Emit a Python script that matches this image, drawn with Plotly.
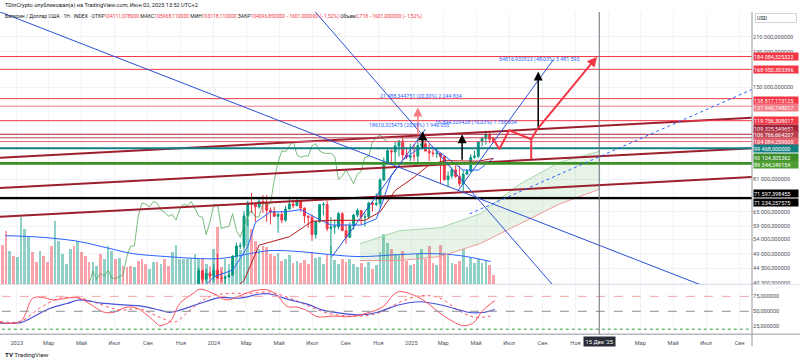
import numpy as np
import pandas as pd
import plotly.graph_objects as go

W, H = 800, 364

# ---------------- weekly candles (BTC / USD, 1W) ----------------
first_week = "2022-12-05"
open_ = [17100, 17080, 16750, 16850, 16550, 17130, 20870, 22700, 23750, 23320,
         21790, 24600, 23550, 22400, 22100, 27400, 27950, 28200, 28350, 30300,
         27600, 29250, 28850, 26900, 26850, 26870, 27100, 25850, 26340, 30480,
         30600, 30170, 30230, 29850, 29280, 29050, 29400, 26100, 26050, 25830,
         25850, 26530, 26250, 27950, 27900, 27150, 29900, 34500, 35000, 37050,
         37400, 37450, 39970, 43800, 41370, 43000, 42280, 43950, 41700, 41600,
         42030, 42580, 48300, 51680, 51730, 63100, 68950, 68400, 67200, 69650,
         69000, 65700, 64900, 63100, 63900, 61500, 66250, 68500, 67750, 69650,
         66650, 63200, 62700, 55800, 60800, 68200, 68250, 58100, 58700, 58900,
         64200, 57300, 54800, 59200, 63600, 65600, 62800, 62900, 69000, 68300,
         68700, 80400, 90600, 97900, 97200, 101100, 104500, 95200, 93700, 94500,
         94400, 101300, 102600, 97700, 96500, 96100, 96250, 94250, 80700, 82600,
         86100, 82400, 78400, 83700, 85200, 93700, 94300, 104100, 106450, 109000,
         105711]
high_ = [17400, 18400, 17000, 16900, 17400, 21400, 23100, 23800, 24250, 23450,
         25250, 25100, 23900, 22600, 28400, 28900, 29200, 28800, 31000, 30400,
         30000, 29800, 28900, 27600, 27000, 28400, 27400, 26800, 31400, 31300,
         31400, 31800, 30400, 29900, 29750, 30200, 29700, 26800, 28200, 26400,
         26900, 27500, 27200, 28600, 28000, 30300, 35200, 35900, 38000, 37900,
         38400, 40000, 44700, 43800, 44300, 43600, 45900, 49000, 43600, 42200,
         43900, 48600, 52800, 52900, 64000, 70000, 73780, 68900, 71700, 72700,
         72800, 66900, 67200, 64700, 65500, 67700, 71900, 70600, 71900, 70200,
         66900, 63400, 63800, 61400, 68400, 69400, 70000, 62700, 61800, 65000,
         64900, 59800, 60600, 64100, 66500, 65600, 64400, 69500, 69500, 73600,
         81500, 93500, 99600, 98700, 104000, 105200, 108300, 99900, 102700, 102500,
         106400, 109300, 106400, 102500, 98800, 99500, 96500, 95000, 85300, 87500,
         88800, 88500, 86100, 86400, 95700, 97900, 104400, 107100, 111980, 110700,
         105968]
low_ = [16700, 16500, 16400, 16300, 16500, 17100, 20400, 22300, 22600, 21450,
        21350, 22800, 21900, 19600, 21900, 26600, 26500, 27200, 28200, 27100,
        26900, 27700, 25800, 26300, 25900, 26600, 25400, 24800, 26250, 29500,
        29700, 29950, 29500, 28900, 28600, 28700, 25200, 25700, 25400, 25400,
        24900, 26300, 26000, 27200, 26550, 26900, 29800, 33900, 34500, 34800,
        35700, 36800, 39600, 40200, 40550, 41500, 40750, 41500, 40600, 38500,
        41800, 42300, 48300, 50600, 51000, 59000, 64500, 60800, 66500, 64500,
        60700, 59700, 62800, 56500, 60200, 60800, 66000, 66600, 67500, 65100,
        60300, 58400, 53500, 54300, 60600, 63500, 57100, 49000, 56100, 57800,
        57200, 52500, 54600, 57600, 62700, 59800, 58900, 62400, 65100, 67500,
        66800, 80200, 89400, 90800, 90500, 94100, 92200, 92600, 91200, 91200,
        89300, 99500, 97500, 91200, 94100, 93400, 78200, 80000, 76600, 81200,
        81600, 77100, 74400, 83100, 85100, 92800, 93400, 100700, 102000, 103100,
        103118]
close_ = [17080, 16750, 16850, 16550, 17130, 20870, 22700, 23750, 23320, 21790,
          24600, 23550, 22400, 22100, 27400, 27950, 28200, 28350, 30300, 27600,
          29250, 28850, 26900, 26850, 26870, 27100, 25850, 26340, 30480, 30600,
          30170, 30230, 29850, 29280, 29050, 29400, 26100, 26050, 25830, 25850,
          26530, 26250, 27950, 27900, 27150, 29900, 34500, 35000, 37050, 37400,
          37450, 39970, 43800, 41370, 43000, 42280, 43950, 41700, 41600, 42030,
          42580, 48300, 51680, 51730, 63100, 68950, 68400, 67200, 69650, 69000,
          65700, 64900, 63100, 63900, 61500, 66250, 68500, 67750, 69650, 66650,
          63200, 62700, 55800, 60800, 68200, 68250, 58100, 58700, 58900, 64200,
          57300, 54800, 59200, 63600, 65600, 62800, 62900, 69000, 68300, 68700,
          80400, 90600, 97900, 97200, 101100, 104500, 95200, 93700, 94500, 94400,
          101300, 102600, 97700, 96500, 96100, 96250, 94250, 80700, 82600, 86100,
          82400, 78400, 83700, 85200, 93700, 94300, 104100, 106450, 109000, 105700,
          104097]
# relative weekly volume (as shown by the overlay)
volume = [40, 54, 34, 29, 28, 68, 56, 48, 33, 23,
          34, 29, 23, 39, 64, 44, 31, 21, 36, 39,
          44, 33, 29, 23, 23, 19, 31, 26, 39, 34,
          26, 27, 19, 18, 19, 18, 24, 26, 21, 16,
          23, 23, 21, 26, 19, 33, 40, 26, 26, 26,
          27, 31, 26, 26, 21, 19, 36, 58, 18, 26,
          21, 23, 31, 35, 74, 66, 56, 44, 36, 39,
          38, 31, 29, 32, 24, 26, 30, 22, 24, 22,
          25, 21, 33, 27, 28, 21, 30, 39, 25, 21,
          26, 23, 26, 21, 18, 22, 18, 23, 16, 20,
          33, 51, 42, 36, 31, 30, 34, 24, 20, 21,
          31, 36, 26, 39, 22, 20, 40, 32, 30, 22,
          21, 24, 36, 18, 27, 22, 26, 22, 25, 20,
          10]
weeks = pd.date_range(first_week, periods=len(close_), freq="7D")

vol_ma_dates = ["2022-12-11", "2023-01-31", "2023-03-17", "2023-04-28", "2023-06-23",
                "2023-08-04", "2023-10-06", "2023-12-06", "2024-01-12", "2024-02-18",
                "2024-03-08", "2024-04-14", "2024-06-09", "2024-08-03", "2024-09-28",
                "2024-12-10", "2025-02-04", "2025-04-01", "2025-05-28"]
vol_ma = [49, 48, 46, 43, 36, 31, 28, 26, 26, 29, 31, 34, 33, 30, 28, 30, 31, 29, 23]

# Ichimoku
tenkan_dates = ["2023-12-04", "2024-01-01", "2024-02-05", "2024-03-04", "2024-03-18", "2024-04-15",
                "2024-05-13", "2024-06-10", "2024-07-08", "2024-08-05", "2024-09-02", "2024-09-30",
                "2024-10-28", "2024-11-11", "2024-11-25", "2024-12-16", "2025-01-13", "2025-02-10",
                "2025-03-10", "2025-04-07", "2025-05-05", "2025-06-02"]
tenkan = [38000, 42000, 44000, 51500, 60500, 65000, 65000, 66000, 62500, 59500, 59500, 59500,
          62000, 71000, 83000, 92000, 99000, 100000, 93000, 86000, 86000, 93000]
kijun_dates = ["2023-12-04", "2024-01-01", "2024-02-26", "2024-03-25", "2024-05-20", "2024-07-01",
               "2024-08-05", "2024-09-02", "2024-10-07", "2024-11-04", "2024-12-02", "2025-01-06",
               "2025-02-03", "2025-03-03", "2025-04-07", "2025-05-05", "2025-06-02"]
kijun = [31000, 34500, 41000, 52000, 55000, 61000, 61400, 61400, 61400, 65000, 75000, 82000,
         89000, 91600, 91300, 91300, 93000]
cloud_dates = ["2024-09-28", "2024-12-10", "2025-02-23", "2025-05-08", "2025-07-21", "2025-10-03",
               "2025-12-17"]
span_a = [52500, 57300, 58400, 64100, 78300, 90700, 97600]
span_b = [46900, 46900, 48150, 52500, 60000, 68600, 75800]
lag_weeks = 28

# oscillator pane
osc_k_dates = ["2022-12-01", "2023-01-08", "2023-01-31", "2023-02-19", "2023-03-09", "2023-04-23",
               "2023-05-17", "2023-06-10", "2023-06-28", "2023-07-24", "2023-08-12", "2023-08-30",
               "2023-09-18", "2023-09-23", "2023-10-12", "2023-10-30", "2023-11-24", "2023-12-06",
               "2023-12-31", "2024-01-25", "2024-02-18", "2024-03-14", "2024-04-09", "2024-04-27",
               "2024-05-16", "2024-06-03", "2024-06-22", "2024-07-10", "2024-08-09", "2024-09-09",
               "2024-10-11", "2024-11-10", "2024-11-28", "2024-12-10", "2025-01-17", "2025-02-23",
               "2025-03-19", "2025-04-06", "2025-04-25", "2025-05-14", "2025-06-05"]
osc_k = [31, 33, 72, 73, 69, 73, 62, 49, 48, 57, 55, 44, 29, 26, 33, 63, 80, 87, 80, 69, 76,
         84, 86, 77, 58, 57, 51, 41, 42, 41, 47, 58, 77, 83, 72, 47, 33, 26, 30, 52, 68]
osc_d_dates = ["2022-12-01", "2023-01-08", "2023-01-26", "2023-03-04", "2023-04-04", "2023-04-28",
               "2023-06-04", "2023-07-11", "2023-08-17", "2023-09-23", "2023-10-12", "2023-10-30",
               "2023-12-06", "2024-01-12", "2024-02-18", "2024-03-27", "2024-04-14", "2024-05-21",
               "2024-06-22", "2024-07-21", "2024-08-22", "2024-09-28", "2024-10-29", "2024-12-10",
               "2025-01-17", "2025-02-23", "2025-04-01", "2025-04-19", "2025-05-14", "2025-06-05"]
osc_d = [30, 31, 38, 55, 63, 69, 64, 61, 59, 52, 48, 52, 63, 73, 72, 79, 79, 69, 62, 52,
         47, 44, 48, 61, 66, 61, 52, 48, 48, 53]
osc_s_dates = ["2022-12-01", "2023-01-08", "2023-02-12", "2023-03-22", "2023-04-28", "2023-06-04",
               "2023-07-11", "2023-08-17", "2023-09-23", "2023-10-21", "2023-11-18", "2023-12-25",
               "2024-01-31", "2024-03-08", "2024-04-14", "2024-05-21", "2024-06-27", "2024-08-03",
               "2024-09-28", "2024-11-04", "2024-12-10", "2025-01-17", "2025-02-23", "2025-04-01",
               "2025-04-29", "2025-05-28"]
osc_s = [33, 33, 55, 72, 72, 62, 52, 54, 40, 32, 52, 75, 80, 80, 82, 72, 58, 46, 42, 48,
         65, 76, 72, 50, 40, 42]

# horizontal levels
level_prices = [184084.325322, 168950.303396, 138817.173125, 131940.748017, 119756.308017,
                109325.549651, 106766.664207, 104084.259000, 99468.000000, 90104.305362,
                89344.249154, 71597.398455, 71234.257575]
level_text = ["184 084,325322", "168 950,303396", "138 817,173125", "131 940,748017",
              "119 756,308017", "109 325,549651", "106 766,664207", "104 084,259000",
              "99 468,000000", "90 104,305362", "89 344,249154", "71 597,398455", "71 234,257575"]
level_colors = ["#f23645", "#f23645", "#f23645", "#f47c86", "#f23645", "#a3243a", "#b8434f",
                "#e35d6a", "#137f82", "#3b8d2a", "#4f9e33", "#000000", "#000000"]
level_widths = [1, 1, 1, 1, 1, 1, 1, 1, 2, 2, 1, 1, 2]
level_label_shift = [0, 0, -2, -1, 0, 6, 3, 0, 0, 6, 0, 4, -4]

price_ticks = [210000, 190000, 150000, 81000, 65000, 59000, 54000, 49000, 44500, 40300]
price_tick_text = ["210 000,000000", "190 000,000000", "150 000,000000", "81 000,000000",
                   "65 000,000000", "59 000,000000", "54 000,000000", "49 000,000000",
                   "44 500,000000", "40 300,000000"]
osc_ticks = [75, 50, 25]
osc_tick_text = ["75,000000", "50,000000", "25,000000"]

month_ticks = ["2023-01-01", "2023-03-01", "2023-05-01", "2023-07-01", "2023-09-01", "2023-11-01",
               "2024-01-01", "2024-03-01", "2024-05-01", "2024-07-01", "2024-09-01", "2024-11-01",
               "2025-01-01", "2025-03-01", "2025-05-01", "2025-07-01", "2025-09-01", "2025-11-01",
               "2026-01-01", "2026-03-01", "2026-05-01", "2026-07-01", "2026-09-01"]
month_text = ["2023", "Мар", "Май", "Июл", "Сен", "Ноя", "2024", "Мар", "Май", "Июл", "Сен", "Ноя",
              "2025", "Мар", "Май", "Июл", "Сен", "Ноя", "2026", "Мар", "Май", "Июл", "Сен"]

# drawings: trend lines (date0, price0, date1, price1)
blue_lines = [("2022-12-01", 248240, "2026-07-26", 37930),
              ("2024-07-07", 248240, "2025-09-19", 39955),
              ("2024-08-07", 48150, "2025-01-27", 113050),
              ("2025-03-28", 74770, "2025-09-21", 180250)]
blue_dotted = [("2025-04-19", 64140, "2026-09-24", 147580)]
channel_lines = [("2022-12-01", 93420, "2026-09-24", 122040),
                 ("2022-12-01", 76280, "2026-09-24", 99580),
                 ("2022-12-01", 62870, "2026-09-24", 82080)]
red_path_dates = ["2025-05-31", "2025-06-13", "2025-07-01", "2025-08-11", "2025-08-22", "2025-12-11"]
red_path_prices = [107170, 98930, 112300, 105750, 113050, 183900]
red_drop = (["2025-08-11", "2025-08-11"], [105750, 92550])
black_arrows = [("2025-08-24", 113050, 166400), ("2025-04-05", 91300, 109330),
                ("2025-01-22", 98930, 111540)]
salmon_arrow = ("2025-01-13", 107900, 130900)
measure_labels = [("2025-01-19", 140850, "21 488,344751 (20,30%) 2 244 834"),
                  ("2024-12-28", 116100, "18610,325475 (20,59%) 1 946 055"),
                  ("2025-04-30", 118000, "16 894,329428 (16,03%) 1 758 654"),
                  ("2025-08-26", 180250, "54816,932923 (48,03%) 5 481 593")]
crosshair_date = "2025-12-15"

# ---------------- geometry ----------------
PLOT_R = 752
MAIN_TOP, MAIN_BOT = 12, 286
OSC_TOP, OSC_BOT = 286, 336
def fy(px):
    return 1 - px / H

fig = go.Figure()

vol_colors = ["rgba(8,153,129,0.45)" if c >= o else "rgba(242,54,69,0.45)" for o, c in zip(open_, close_)]
fig.add_trace(go.Bar(x=weeks, y=volume, marker=dict(color=vol_colors, line=dict(width=0)),
                     width=5.0 * 86400000, xaxis="x", yaxis="y"))
fig.add_trace(go.Scatter(x=vol_ma_dates, y=vol_ma, mode="lines",
                         line=dict(color="#2962ff", width=1, shape="spline"), xaxis="x", yaxis="y"))

# cloud
fig.add_trace(go.Scatter(x=cloud_dates, y=span_b, mode="lines", line=dict(color="#ef9a9a", width=1),
                         xaxis="x", yaxis="y3"))
fig.add_trace(go.Scatter(x=cloud_dates, y=span_a, mode="lines", line=dict(color="#a5d6a7", width=1),
                         fill="tonexty", fillcolor="rgba(67,160,71,0.13)", xaxis="x", yaxis="y3"))
# ichimoku lines
fig.add_trace(go.Scatter(x=tenkan_dates, y=tenkan, mode="lines", line=dict(color="#2962ff", width=1),
                         xaxis="x", yaxis="y3"))
fig.add_trace(go.Scatter(x=kijun_dates, y=kijun, mode="lines", line=dict(color="#b71c1c", width=1),
                         xaxis="x", yaxis="y3"))
fig.add_trace(go.Scatter(x=weeks - pd.Timedelta(weeks=lag_weeks), y=close_, mode="lines",
                         line=dict(color="#43a047", width=1), opacity=0.7, xaxis="x", yaxis="y3"))

# channel lines
for d0, p0, d1, p1 in channel_lines:
    fig.add_trace(go.Scatter(x=[d0, d1], y=[p0, p1], mode="lines",
                             line=dict(color="#9c1f2e", width=2), xaxis="x", yaxis="y3"))

# horizontal levels
for p, c, w in zip(level_prices, level_colors, level_widths):
    fig.add_trace(go.Scatter(x=["2022-11-01", "2026-12-31"], y=[p, p], mode="lines",
                             line=dict(color=c, width=w), xaxis="x", yaxis="y3"))

# candles
fig.add_trace(go.Candlestick(x=weeks, open=open_, high=high_, low=low_, close=close_,
                             increasing=dict(line=dict(color="#089981", width=1), fillcolor="#089981"),
                             decreasing=dict(line=dict(color="#f23645", width=1), fillcolor="#f23645"),
                             whiskerwidth=0, xaxis="x", yaxis="y3"))

# blue trend lines
for d0, p0, d1, p1 in blue_lines:
    fig.add_trace(go.Scatter(x=[d0, d1], y=[p0, p1], mode="lines",
                             line=dict(color="#2a4fd6", width=1), xaxis="x", yaxis="y3"))
for d0, p0, d1, p1 in blue_dotted:
    fig.add_trace(go.Scatter(x=[d0, d1], y=[p0, p1], mode="lines",
                             line=dict(color="#2962ff", width=1, dash="dot"), xaxis="x", yaxis="y3"))

# red projected path
fig.add_trace(go.Scatter(x=red_path_dates[:-1], y=red_path_prices[:-1], mode="lines",
                         line=dict(color="#f23645", width=2), xaxis="x", yaxis="y3"))
fig.add_trace(go.Scatter(x=red_drop[0], y=red_drop[1], mode="lines",
                         line=dict(color="#f23645", width=2), xaxis="x", yaxis="y3"))

# oscillator
fig.add_trace(go.Scatter(x=osc_s_dates, y=osc_s, mode="lines",
                         line=dict(color="#f7525f", width=1, dash="dot", shape="spline"), xaxis="x", yaxis="y2"))
fig.add_trace(go.Scatter(x=osc_d_dates, y=osc_d, mode="lines",
                         line=dict(color="#4b50d8", width=1.2, shape="spline"), xaxis="x", yaxis="y2"))
fig.add_trace(go.Scatter(x=osc_k_dates, y=osc_k, mode="lines",
                         line=dict(color="#f7525f", width=1, shape="spline"), xaxis="x", yaxis="y2"))
for lv, col, dash in [(75, "#f5a3a7", "dash"), (50, "#8a8d96", "dash"), (20, "#2e9d3a", "dot")]:
    fig.add_trace(go.Scatter(x=["2022-11-01", "2026-12-31"], y=[lv, lv], mode="lines",
                             line=dict(color=col, width=1, dash=dash), xaxis="x", yaxis="y2"))

FONT = "Roboto"
ann = []
def arrow(d, p_tail, p_tip, color, width):
    return dict(x=d, y=np.log10(p_tip), ax=d, ay=np.log10(p_tail), xref="x", yref="y3",
                axref="x", ayref="y3", showarrow=True, arrowhead=2, arrowsize=1.2,
                arrowwidth=width, arrowcolor=color, text="")
for d, p0, p1 in black_arrows:
    ann.append(arrow(d, p0, p1, "#000000", 1.5))
ann.append(arrow(salmon_arrow[0], salmon_arrow[1], salmon_arrow[2], "#f77c80", 1.5))
ann.append(dict(x=red_path_dates[-1], y=np.log10(red_path_prices[-1]),
                ax=red_path_dates[-2], ay=np.log10(red_path_prices[-2]),
                xref="x", yref="y3", axref="x", ayref="y3", showarrow=True, arrowhead=2,
                arrowsize=1.0, arrowwidth=2, arrowcolor="#f23645", text=""))
for d, p, t in measure_labels:
    ann.append(dict(x=d, y=np.log10(p), xref="x", yref="y3", text=t, showarrow=False,
                    font=dict(family=FONT, size=5.3, color="#2962ff")))

# right price labels
for p, t, c, s in zip(level_prices, level_text, level_colors, level_label_shift):
    ann.append(dict(x=(PLOT_R + 1) / W, xref="paper", xanchor="left", y=np.log10(p), yref="y3",
                    yanchor="middle", yshift=s, text=t, showarrow=False, bgcolor=c, borderpad=0,
                    width=44, height=7, align="left", font=dict(family=FONT, size=5.5, color="white")))
ann.append(dict(x=(PLOT_R + 3) / W, xref="paper", xanchor="left", y=fy(18.5), yref="paper",
                yanchor="middle", text="USD", showarrow=False, bordercolor="#d1d4dc", borderwidth=1,
                borderpad=1, width=38, align="left", bgcolor="white",
                font=dict(family=FONT, size=5.3, color="#131722")))
ann.append(dict(x=crosshair_date, xref="x", y=fy(343), yref="paper", yanchor="middle",
                text="15 Дек '25", showarrow=False, bgcolor="#2a2e39", borderpad=1.5,
                font=dict(family=FONT, size=5.8, color="white")))
ann.append(dict(x=3 / W, xref="paper", xanchor="left", y=fy(6), yref="paper", yanchor="middle",
                text="TDinCrypto опубликовал(а) на TradingView.com, Июн 02, 2025 13:52 UTC+2",
                showarrow=False, font=dict(family=FONT, size=5.6, color="#131722")))
red = "<span style='color:#f23645'>%s</span>"
hdr = ("Биткоин / Доллар США · 1Н · INDEX · ОТКР" + red % "104111,078000" + " МАКС" + red % "105968,110000"
       + " МИН" + red % "103118,110000" + " ЗАКР" + red % "104096,850000" + " "
       + red % "−1601,000000 (−1,52%)" + " Объем" + red % "2,718" + " " + red % "−1601,000000 (−1,52%)")
ann.append(dict(x=3 / W, xref="paper", xanchor="left", y=fy(17), yref="paper", yanchor="middle",
                text=hdr, showarrow=False, font=dict(family=FONT, size=5.0, color="#131722")))
ann.append(dict(x=3 / W, xref="paper", xanchor="left", y=fy(357), yref="paper", yanchor="middle",
                text="<b>TV</b> TradingView", showarrow=False, font=dict(family=FONT, size=6.2, color="#131722")))

shapes = [
    dict(type="line", xref="paper", yref="paper", x0=0, x1=1, y0=fy(OSC_TOP), y1=fy(OSC_TOP),
         line=dict(color="#e0e3eb", width=1)),
    dict(type="line", xref="paper", yref="paper", x0=0, x1=1, y0=fy(OSC_BOT), y1=fy(OSC_BOT),
         line=dict(color="#9598a1", width=1)),
    dict(type="line", xref="paper", yref="paper", x0=PLOT_R / W, x1=PLOT_R / W, y0=fy(OSC_BOT + 12), y1=fy(MAIN_TOP),
         line=dict(color="#9598a1", width=1)),
    dict(type="line", xref="x", yref="paper", x0=crosshair_date, x1=crosshair_date, y0=fy(OSC_BOT), y1=fy(MAIN_TOP),
         line=dict(color="#6a6d78", width=1)),
]

tickfont = dict(family=FONT, size=5.6, color="#50535e")
fig.update_layout(
    width=W, height=H, margin=dict(l=0, r=0, t=0, b=0),
    paper_bgcolor="white", plot_bgcolor="white", showlegend=False,
    bargap=0, annotations=ann, shapes=shapes,
    xaxis=dict(type="date", domain=[0, PLOT_R / W], range=["2022-12-01", "2026-09-24"], anchor="y2",
               tickvals=month_ticks, ticktext=month_text, tickfont=tickfont, ticks="", showgrid=True,
               gridcolor="#f0f3fa", gridwidth=1, showline=False, zeroline=False, ticklabelstandoff=4,
               rangeslider=dict(visible=False), fixedrange=True),
    yaxis=dict(domain=[fy(MAIN_BOT), fy(MAIN_TOP)], range=[0, MAIN_BOT - MAIN_TOP], visible=False,
               anchor="x", fixedrange=True),
    yaxis3=dict(type="log", overlaying="y", side="right", anchor="x",
                range=[np.log10(39955), np.log10(248240)], tickvals=price_ticks, ticktext=price_tick_text,
                tickfont=tickfont, ticks="", showgrid=True, gridcolor="#f0f3fa", zeroline=False, showline=False),
    yaxis2=dict(domain=[fy(OSC_BOT), fy(OSC_TOP)], range=[11.67, 95], side="right", anchor="x",
                tickvals=osc_ticks, ticktext=osc_tick_text, tickfont=tickfont, ticks="",
                showgrid=False, zeroline=False, showline=False),
)
fig.write_html("out.html", config={"displayModeBar": False},
               post_script="document.body.style.margin='0';document.body.style.overflow='hidden';")
